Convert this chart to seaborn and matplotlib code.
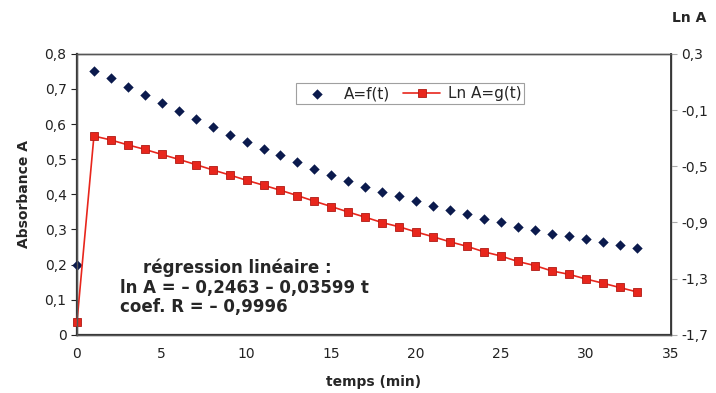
import numpy as np
import pandas as pd
import matplotlib
matplotlib.use('Agg')
import matplotlib.pyplot as plt
import seaborn as sns
from matplotlib.ticker import FuncFormatter

# data
temps = list(range(0, 34))
absorbance = [0.200, 0.752, 0.731, 0.706, 0.684, 0.660, 0.637, 0.614, 0.591, 0.570,
              0.549, 0.530, 0.511, 0.492, 0.473, 0.455, 0.438, 0.422, 0.406, 0.394,
              0.380, 0.367, 0.354, 0.343, 0.330, 0.320, 0.308, 0.299, 0.288, 0.281,
              0.272, 0.264, 0.256, 0.248]
ln_a = [-1.609, -0.285, -0.313, -0.348, -0.380, -0.416, -0.451, -0.488, -0.526, -0.562,
        -0.600, -0.635, -0.671, -0.709, -0.749, -0.787, -0.826, -0.863, -0.901, -0.931,
        -0.968, -1.002, -1.038, -1.070, -1.109, -1.139, -1.178, -1.207, -1.245, -1.269,
        -1.302, -1.332, -1.363, -1.394]
left_ticks = [0, 0.1, 0.2, 0.3, 0.4, 0.5, 0.6, 0.7, 0.8]
right_ticks = [-1.7, -1.3, -0.9, -0.5, -0.1, 0.3]
x_ticks = [0, 5, 10, 15, 20, 25, 30, 35]

df = pd.DataFrame({'t': temps, 'A': absorbance, 'lnA': ln_a})

sns.set_theme(style='white')
plt.rcParams['font.family'] = ['DejaVu Sans']

fig = plt.figure(figsize=(7.16, 3.93), dpi=100)
ax = fig.add_axes([0.1075, 0.148, 0.829, 0.715])
ax2 = ax.twinx()

blue = '#0b1a4d'
red = '#e8261c'

sns.scatterplot(data=df, x='t', y='A', ax=ax, marker='D', s=28, color=blue,
                edgecolor=blue, linewidth=0, label='A=f(t)', legend=False, zorder=3,
                clip_on=False)
sns.lineplot(data=df, x='t', y='lnA', ax=ax2, marker='s', markersize=5.5, color=red,
             markeredgecolor='#b01a14', markeredgewidth=0.6, linewidth=1.2,
             label='Ln A=g(t)', legend=False, clip_on=False)

ax.set_xlim(0, 35)
ax.set_ylim(0, 0.8)
ax2.set_ylim(-1.7, 0.3)
ax.set_xticks(x_ticks)
ax.set_yticks(left_ticks)
ax2.set_yticks(right_ticks)

fmt = FuncFormatter(lambda v, p: ('%g' % round(v, 2)).replace('.', ','))
ax.yaxis.set_major_formatter(fmt)
ax2.yaxis.set_major_formatter(fmt)
ax.xaxis.set_major_formatter(FuncFormatter(lambda v, p: '%d' % v))

for a in (ax, ax2):
    a.tick_params(axis='both', labelsize=10, colors='#222222', length=4, width=0.8,
                  direction='out')
    for s in a.spines.values():
        s.set_visible(True)
        s.set_color('#555555')
        s.set_linewidth(1.0)
ax.spines['left'].set_color('#333333')
ax.spines['left'].set_linewidth(1.6)
ax.spines['bottom'].set_color('#333333')
ax.spines['bottom'].set_linewidth(1.6)
ax2.spines['right'].set_color('#333333')
ax2.spines['right'].set_linewidth(1.3)
ax.tick_params(axis='x', length=3, pad=6)
ax2.tick_params(axis='y', length=4, colors='#aaaaaa', labelcolor='#222222')

ax.set_xlabel('temps (min)', fontsize=10, fontweight='bold', labelpad=10)
ax.set_ylabel('Absorbance A', fontsize=10, fontweight='bold', labelpad=10)
ax2.set_ylabel('')
fig.text(0.963, 0.955, 'Ln A', fontsize=10, fontweight='bold', ha='center', va='center')

h1, l1 = ax.get_legend_handles_labels()
h2, l2 = ax2.get_legend_handles_labels()
leg = ax2.legend(h1 + h2, l1 + l2, ncol=2, loc='center', bbox_to_anchor=(0.573, 0.761),
                 bbox_transform=fig.transFigure, fontsize=11, frameon=True, fancybox=False,
                 borderpad=0.2, handlelength=2.4, columnspacing=0.9, handletextpad=0.5,
                 borderaxespad=0)
leg.get_frame().set_edgecolor('#888888')
leg.get_frame().set_linewidth(0.8)

ax.text(0.331, 0.319, 'régression linéaire :', transform=fig.transFigure,
        fontsize=12, fontweight='bold', ha='center', va='center')
ax.text(0.168, 0.268, 'ln A = – 0,2463 – 0,03599 t', transform=fig.transFigure,
        fontsize=12, fontweight='bold', ha='left', va='center')
ax.text(0.168, 0.218, 'coef. R = – 0,9996', transform=fig.transFigure,
        fontsize=12, fontweight='bold', ha='left', va='center')

fig.savefig('out.png', dpi=100)
